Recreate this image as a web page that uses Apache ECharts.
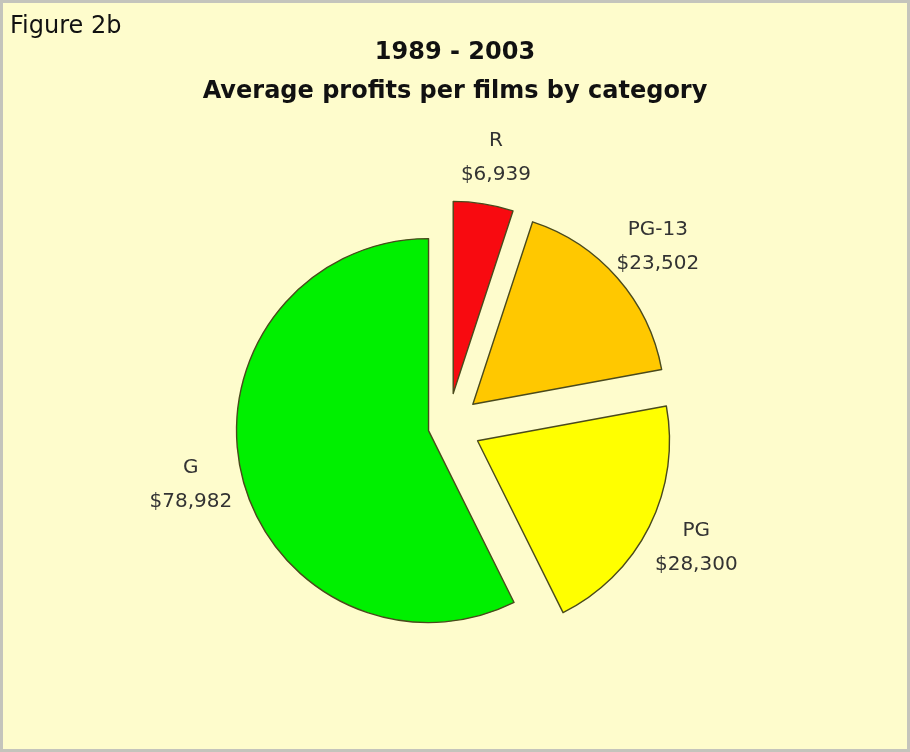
<!DOCTYPE html>
<html>
<head>
<meta charset="utf-8">
<script src="https://cdn.jsdelivr.net/npm/echarts@6/dist/echarts.min.js"></script>
<style>
  html, body { margin: 0; padding: 0; background: #ffffff; }
  #frame { position: absolute; left: 0; top: 0; width: 904px; height: 746px; border: 3px solid #c4c4bc; background: #fefccc; }
  #chart { width: 904px; height: 746px; }
</style>
</head>
<body>
<div id="frame"><div id="chart"></div></div>
<script>
const figureLabel = 'Figure 2b';
const titleLines = ['1989 - 2003', 'Average profits per films by category'];
const categories = ['R', 'PG-13', 'PG', 'G'];
const profits = [6939, 23502, 28300, 78982];
const sliceColors = ['#f80a10', '#ffc800', '#ffff00', '#00f000'];
// G is pulled out less than the other three slices
const largeExplode = ['R', 'PG-13', 'PG'];

const chart = echarts.init(document.getElementById('chart'), null, { renderer: 'canvas' });
const fmt = v => '$' + v.toLocaleString('en-US');

function pieSeries(visibleSet, offset) {
  return {
    type: 'pie',
    center: [445, 423],
    radius: 192,
    startAngle: 90,
    clockwise: true,
    selectedMode: 'multiple',
    selectedOffset: offset,
    avoidLabelOverlap: false,
    emphasis: { disabled: true },
    itemStyle: { borderColor: '#4a4a1c', borderWidth: 1.4 },
    label: {
      show: true,
      position: 'outside',
      formatter: p => p.name + '\n' + fmt(p.value),
      fontFamily: 'DejaVu Sans',
      fontSize: 20,
      lineHeight: 34,
      color: '#333'
    },
    labelLine: { show: false, length: 47, length2: 0 },
    labelLayout: () => ({ align: 'center' }),
    data: categories.map((c, i) => {
      const vis = visibleSet(c);
      return {
        name: c, value: profits[i], selected: true,
        itemStyle: vis ? { color: sliceColors[i] } : { color: 'rgba(0,0,0,0)', borderWidth: 0 },
        label: { show: vis }
      };
    })
  };
}

chart.setOption({
  backgroundColor: 'transparent',
  animation: false,
  textStyle: { fontFamily: 'DejaVu Sans, sans-serif' },
  title: [
    { text: figureLabel, left: 2, top: 7,
      textStyle: { fontFamily: 'DejaVu Sans', fontSize: 24, fontWeight: 'normal', color: '#111' } },
    { text: titleLines.join('\n'), left: 'center', top: 25,
      textStyle: { fontFamily: 'DejaVu Sans', fontSize: 24, fontWeight: 'bold', color: '#111', lineHeight: 39 } }
  ],
  series: [
    pieSeries(c => !largeExplode.includes(c), 20),
    pieSeries(c => largeExplode.includes(c), 33)
  ]
});
</script>
</body>
</html>
